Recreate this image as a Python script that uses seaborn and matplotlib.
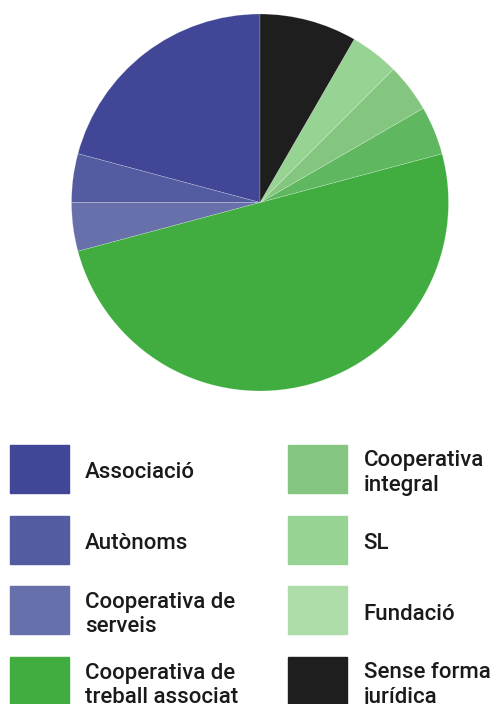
import matplotlib
matplotlib.use("Agg")
import matplotlib.pyplot as plt
from matplotlib.patches import Rectangle
import seaborn as sns

sns.set_theme(style="white")
plt.rcParams['font.family'] = ['Roboto', 'DejaVu Sans']

# Data (counts; 24 total)
categories = ["Associació", "Autònoms", "Cooperativa de\nserveis",
              "Cooperativa de\ntreball associat", "Cooperativa de\nconsum",
              "Cooperativa\nintegral", "SL", "Fundació", "Sense forma\njurídica"]
values = [5, 1, 1, 12, 1, 1, 1, 0, 2]
colors = ["#414796", "#535ba1", "#6770ab", "#41ad41", "#5fb85f",
          "#84c680", "#97d393", "#aedca8", "#1e1e1e"]

W, H = 491, 704
fig = plt.figure(figsize=(W / 100, H / 100), dpi=100)

# Pie axes
cx, cy, r = 260, 202.5, 188.5
half = 190
ax = fig.add_axes([(cx - half) / W, (H - cy - half) / H, 2 * half / W, 2 * half / H])
pie_vals = [v for v in values if v > 0]
pie_cols = [c for v, c in zip(values, colors) if v > 0]
ax.pie(pie_vals, colors=pie_cols, startangle=90, counterclock=True,
       wedgeprops=dict(linewidth=0.4, edgecolor=(1, 1, 1, 0.35)))
lim = half / r
ax.set_xlim(-lim, lim)
ax.set_ylim(-lim, lim)
ax.set_aspect("equal")
ax.axis("off")

# Legend (two columns, column-major, 5 rows)
rows = 5
row_top0, row_step, box_h = 445, 70.7, 48
col_box_x = [10, 288]
col_text_x = [85, 363.5]
box_w = 59
text_dy = 4
for i, (lab, col) in enumerate(zip(categories, colors)):
    c, rr = divmod(i, rows)
    top = row_top0 + rr * row_step
    fig.patches.append(Rectangle((col_box_x[c] / W, (H - top - box_h) / H),
                                 box_w / W, box_h / H, color=col,
                                 transform=fig.transFigure, figure=fig))
    fig.text(col_text_x[c] / W, (H - top - box_h / 2 - text_dy) / H, lab,
             fontsize=16, fontweight="medium", color="#1a1a1a",
             ha="left", va="center", linespacing=1.2)

fig.savefig("out.png", dpi=100)
